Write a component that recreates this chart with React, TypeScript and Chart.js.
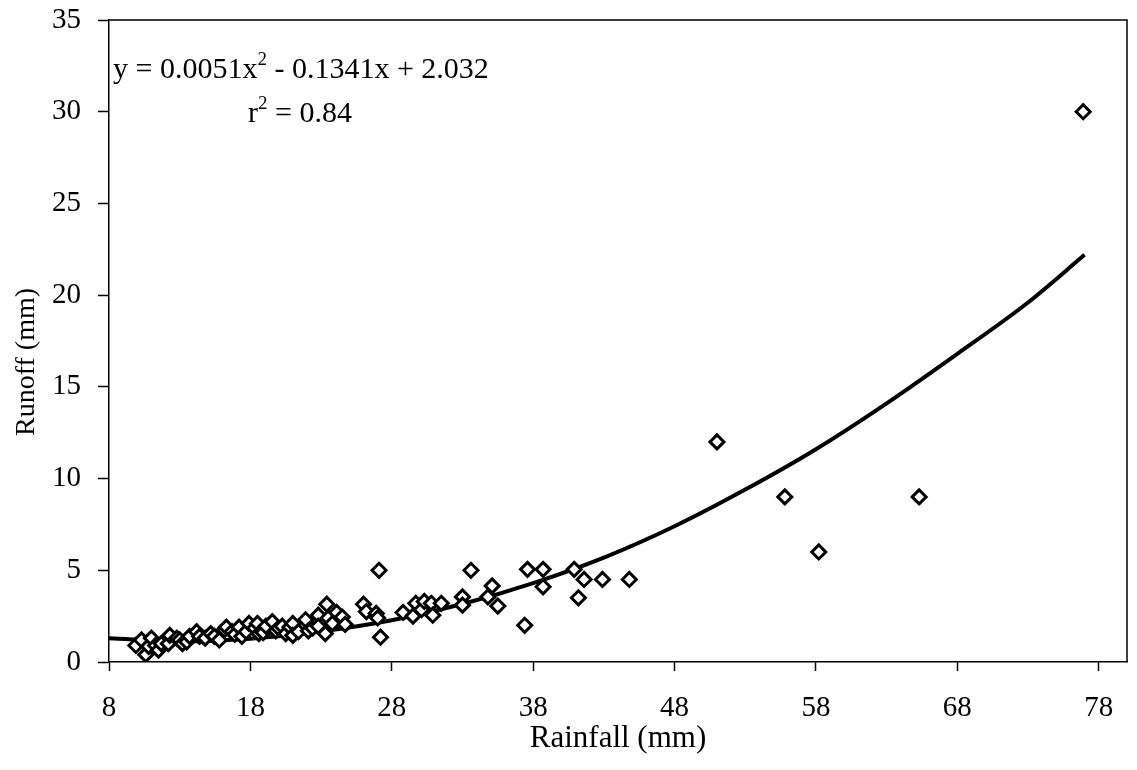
import React, { useEffect, useRef } from "react";
import { Chart, registerables } from "chart.js";

Chart.register(...registerables);

// Observed points: rainfall (mm) vs runoff (mm)
const rainfall = [
  9.9, 10.3, 10.6, 10.8, 11.0, 11.3, 11.5, 11.7, 12.2, 12.3, 12.8, 13.0, 13.2, 13.5, 13.7,
  14.2, 14.4, 14.8, 15.2, 15.45, 15.8, 16.15, 16.3, 16.7, 16.9, 17.2, 17.4, 17.7, 17.9,
  18.3, 18.5, 18.6, 18.9, 19.1, 19.55, 19.8, 20.0, 20.25, 20.5, 20.8, 21.0, 21.0, 21.4,
  21.9, 22.1, 22.4, 22.8, 22.8, 23.3, 23.4, 23.5, 23.8, 24.1, 24.5, 24.7, 26.0, 26.2,
  26.9, 27.0, 27.1, 27.2, 28.8, 29.5, 29.7, 30.1, 30.3, 30.8, 30.9, 31.5, 33.0, 33.0,
  33.6, 34.8, 35.1, 35.5, 37.4, 37.6, 38.7, 38.7, 40.9, 41.2, 41.6, 42.9, 44.8, 51.0,
  55.8, 58.2, 65.3, 76.9,
];
const runoff = [
  0.9, 1.2, 0.4, 0.85, 1.3, 0.9, 0.65, 1.0, 1.0, 1.45, 1.3, 1.2, 1.0, 1.1, 1.4,
  1.65, 1.4, 1.3, 1.55, 1.4, 1.2, 1.75, 1.9, 1.65, 1.5, 1.9, 1.4, 1.65, 2.1,
  1.85, 2.1, 1.55, 1.6, 1.95, 2.2, 1.7, 1.85, 1.95, 1.55, 1.9, 2.1, 1.45, 1.65,
  2.3, 1.7, 1.85, 2.55, 1.95, 1.55, 3.15, 2.4, 2.1, 2.7, 2.45, 2.05, 3.15, 2.75,
  2.65, 2.4, 5.0, 1.35, 2.7, 2.5, 3.2, 2.85, 3.3, 3.2, 2.55, 3.2, 3.55, 3.1,
  5.0, 3.55, 4.15, 3.05, 2.0, 5.05, 5.05, 4.1, 5.05, 3.5, 4.5, 4.5, 4.5, 12.0,
  9.0, 6.0, 9.0, 30.0,
];

// Trend curve, values
const trendX = [8, 13, 18, 23, 28, 33, 38, 43, 48, 53, 58, 63, 68, 73, 77];
const trendY = [1.29, 1.13, 1.27, 1.67, 2.28, 3.16, 4.30, 5.69, 7.4, 9.4, 11.6, 14.1, 16.8, 19.6, 22.2];

const xTicks = [8, 18, 28, 38, 48, 58, 68, 78];
const yTicks = [0, 5, 10, 15, 20, 25, 30, 35];

const xTitle = "Rainfall (mm)";
const yTitle = "Runoff (mm)";
const eqParts = ["y = 0.0051x", "2", " - 0.1341x + 2.032"];
const r2Parts = ["r", "2", " = 0.84"];

const FAMILY = "'Liberation Serif', 'Times New Roman', serif";

const framePlugin = {
  id: "frame",
  afterDraw(chart: any) {
    const { ctx, chartArea } = chart;
    ctx.save();
    ctx.strokeStyle = "#000";
    ctx.lineWidth = 1.5;
    ctx.beginPath();
    ctx.moveTo(chartArea.left, chartArea.top);
    ctx.lineTo(chartArea.right, chartArea.top);
    ctx.lineTo(chartArea.right, chartArea.bottom);
    ctx.stroke();

    const drawSup = (parts: string[], x: number, y: number) => {
      ctx.fillStyle = "#000";
      ctx.textBaseline = "alphabetic";
      ctx.textAlign = "left";
      ctx.font = `30px ${FAMILY}`;
      ctx.fillText(parts[0], x, y);
      let cx = x + ctx.measureText(parts[0]).width;
      ctx.font = `19px ${FAMILY}`;
      ctx.fillText(parts[1], cx, y - 13);
      cx += ctx.measureText(parts[1]).width;
      ctx.font = `30px ${FAMILY}`;
      ctx.fillText(parts[2], cx, y);
    };
    drawSup(eqParts, 113, 78);
    drawSup(r2Parts, 248, 122);

    // y-axis title
    ctx.save();
    ctx.translate(27, 362);
    ctx.rotate(-Math.PI / 2);
    ctx.font = `28px ${FAMILY}`;
    ctx.textAlign = "center";
    ctx.textBaseline = "middle";
    ctx.fillStyle = "#000";
    ctx.fillText(yTitle, 0, 0);
    ctx.restore();
    ctx.restore();
  },
};

export default function App() {
  const ref = useRef<HTMLCanvasElement>(null);
  useEffect(() => {
    if (!ref.current) return;
    const tickFont = { family: FAMILY, size: 29 };
    const titleFont = { family: FAMILY, size: 31 };
    const chart = new Chart(ref.current, {
      type: "scatter",
      data: {
        datasets: [
          {
            type: "line",
            data: trendX.map((x, i) => ({ x, y: trendY[i] })),
            borderColor: "#000",
            borderWidth: 4,
            pointRadius: 0,
            fill: false,
            cubicInterpolationMode: "monotone",
            order: 2,
          } as any,
          {
            type: "scatter",
            data: rainfall.map((x, i) => ({ x, y: runoff[i] })),
            pointStyle: "rectRot",
            pointRadius: 7,
            borderWidth: 3,
            borderColor: "#000",
            backgroundColor: "#fff",
            order: 1,
          },
        ],
      },
      options: {
        responsive: false,
        animation: false,
        layout: { padding: { left: 0, top: 20, right: 3, bottom: 0 } },
        plugins: { legend: { display: false }, tooltip: { enabled: false } },
        scales: {
          x: {
            type: "linear",
            min: 8,
            max: 80,
            afterBuildTicks: (s: any) => {
              s.ticks = xTicks.map((v) => ({ value: v }));
            },
            afterFit: (s: any) => {
              s.height = 108;
              s.paddingLeft = 0;
              s.paddingRight = 0;
            },
            grid: { drawOnChartArea: false, color: "#000", tickLength: 9, tickWidth: 1.5 },
            border: { color: "#000", width: 1.5 },
            ticks: { font: tickFont, color: "#000", padding: 20, maxRotation: 0, autoSkip: false },
            title: { display: true, text: xTitle, font: titleFont, color: "#000", padding: { top: 0, bottom: 13 } },
          },
          y: {
            type: "linear",
            min: 0,
            max: 35,
            afterBuildTicks: (s: any) => {
              s.ticks = yTicks.map((v) => ({ value: v }));
            },
            afterFit: (s: any) => {
              s.width = 109;
              s.paddingTop = 0;
              s.paddingBottom = 0;
            },
            grid: { drawOnChartArea: false, color: "#000", tickLength: 11, tickWidth: 1.5 },
            border: { color: "#000", width: 1.5 },
            ticks: { font: tickFont, color: "#000", padding: 17, autoSkip: false },
            title: { display: false, text: yTitle },
          },
        },
      },
      plugins: [framePlugin],
    });
    return () => chart.destroy();
  }, []);
  return (
    <div style={{ position: "fixed", left: 0, top: 0, width: 1137, height: 770, background: "#fff" }}>
      <canvas ref={ref} width={1137} height={770} style={{ width: 1137, height: 770 }} />
    </div>
  );
}
